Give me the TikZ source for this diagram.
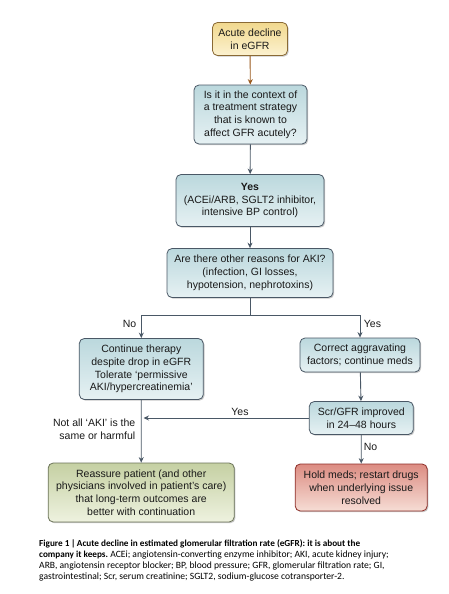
\documentclass[tikz,border=0pt]{standalone}
\usepackage{fontspec}
\setmainfont{Liberation Sans}
\newfontfamily\capfont{Carlito}
\usetikzlibrary{arrows.meta,shadows}
\definecolor{lineclr}{HTML}{4A5866}
\definecolor{brownclr}{HTML}{9A5A1E}
\newcommand{\capnorm}{\mdseries\fontsize{9.6}{11}\selectfont}
\tikzset{
  box/.style={draw=lineclr, line width=0.8pt, rounded corners=5pt, align=center,
    font=\fontsize{10.5}{12.8}\selectfont, text=black!90, inner sep=2pt,
    drop shadow={shadow xshift=1.2pt, shadow yshift=-1.2pt, opacity=0.35, fill=black!60}},
  bluebox/.style={box, top color=HTML3, bottom color=HTML4},
  yelbox/.style={box, draw=HTML5, top color=HTML1, bottom color=HTML2},
  grnbox/.style={box, draw=HTML8, top color=HTML6, bottom color=HTML7},
  redbox/.style={box, draw=HTML11, top color=HTML9, bottom color=HTML10},
  arr/.style={draw=lineclr, line width=0.9pt, -{Stealth[length=5.5pt,width=5pt]}},
  lbl/.style={font=\fontsize{10.5}{12.8}\selectfont, text=black!90, inner sep=0pt},
  capline/.style={anchor=base west, inner sep=0pt, font=\capfont\fontsize{9.2}{11}\selectfont}
}
\definecolor{HTML1}{HTML}{F1D88E}
\definecolor{HTML2}{HTML}{FCF2D0}
\definecolor{HTML3}{HTML}{BBD8DD}
\definecolor{HTML4}{HTML}{E6F1F3}
\definecolor{HTML5}{HTML}{8A6A35}
\definecolor{HTML6}{HTML}{C5D0A3}
\definecolor{HTML7}{HTML}{EEF2DF}
\definecolor{HTML8}{HTML}{6B7358}
\definecolor{HTML9}{HTML}{DC8C82}
\definecolor{HTML10}{HTML}{F6DDD5}
\definecolor{HTML11}{HTML}{8E2E28}
\begin{document}
\begin{tikzpicture}[x=1pt,y=-1pt]
\useasboundingbox[fill=white] (0,0) rectangle (448,594);

\node[yelbox, minimum width=75pt, minimum height=33pt] (b1) at (250,39) {Acute decline\\in eGFR};
\node[bluebox, minimum width=113pt, minimum height=59pt] (b2) at (250.5,114.5) {Is it in the context of\\a treatment strategy\\that is known to\\affect GFR acutely?};
\node[bluebox, minimum width=148pt, minimum height=52pt] (b3) at (250,200.5) {\textbf{Yes}\\(ACEi/ARB, SGLT2 inhibitor,\\intensive BP control)};
\node[bluebox, minimum width=166pt, minimum height=49pt] (b4) at (250,273) {Are there other reasons for AKI?\\(infection, GI losses,\\hypotension, nephrotoxins)};
\node[bluebox, minimum width=124pt, minimum height=61pt] (b5) at (141.3,369) {Continue therapy\\despite drop in eGFR\\Tolerate ‘permissive\\AKI/hypercreatinemia’};
\node[bluebox, minimum width=120pt, minimum height=34pt] (b6) at (360,355) {Correct aggravating\\factors; continue meds};
\node[bluebox, minimum width=104pt, minimum height=33pt] (b7) at (361.3,418) {Scr/GFR improved\\in 24–48 hours};
\node[grnbox, minimum width=186pt, minimum height=59pt] (b8) at (141.2,492.5) {Reassure patient (and other\\physicians involved in patient's care)\\that long-term outcomes are\\better with continuation};
\node[redbox, minimum width=132pt, minimum height=47pt] (b9) at (361.2,487.5) {Hold meds; restart drugs\\when underlying issue\\resolved};

\coordinate (sp) at (250,315);
\draw[arr, draw=brownclr, color=brownclr] (b1) -- (b2);
\draw[arr] (b2) -- (b3);
\draw[arr] (b3) -- (b4);
\draw[draw=lineclr, line width=0.9pt] (b4.south) -- (sp);
\draw[arr] (sp) -| (b5.north);
\draw[arr] (sp) -| (b6.north);
\draw[arr] (b6) -- (b7);
\draw[arr] (b5) -- (b8);
\draw[arr] (b7) -- (b9);
\coordinate (yj) at (143.5,418);
\draw[arr] (b7.west) -- (yj);

\node[lbl] (lno) at (129.5,323.5) {No};
\node[lbl] (lyes) at (372.5,323.5) {Yes};
\node[lbl] (lyes2) at (240,411.5) {Yes};
\node[lbl] (lno2) at (370.5,446.5) {No};
\node[lbl, anchor=east, align=right] (lnot) at (135.5,429) {Not all ‘AKI’ is the\\same or harmful};

\node[capline] (c1) at (39,546) {\bfseries Figure 1\,|\,Acute decline in estimated glomerular filtration rate (eGFR): it is about the};
\node[capline] (c2) at (39,557) {\bfseries company it keeps.\capnorm\ ACEi; angiotensin-converting enzyme inhibitor; AKI, acute kidney injury;};
\node[capline] (c3) at (39,568) {\capnorm ARB, angiotensin receptor blocker; BP, blood pressure; GFR, glomerular filtration rate; GI,};
\node[capline] (c4) at (39,579) {\capnorm gastrointestinal; Scr, serum creatinine; SGLT2, sodium-glucose cotransporter-2.};
\end{tikzpicture}
\end{document}
